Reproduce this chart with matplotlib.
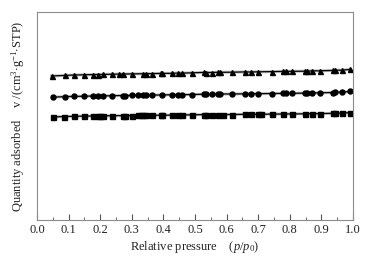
import numpy as np
import matplotlib
matplotlib.use("Agg")
import matplotlib.pyplot as plt
from matplotlib.ticker import MultipleLocator, FormatStrFormatter

plt.rcParams['font.family'] = ['Liberation Serif', 'DejaVu Serif']
plt.rcParams['mathtext.fontset'] = 'custom'
plt.rcParams['mathtext.rm'] = 'Liberation Serif'
plt.rcParams['mathtext.it'] = 'Liberation Serif:italic'

# relative pressure points
p_tri = [0.046, 0.089, 0.117, 0.149, 0.176, 0.192, 0.208, 0.238, 0.259, 0.271,
         0.302, 0.336, 0.344, 0.365, 0.391, 0.397, 0.426, 0.447, 0.458, 0.492,
         0.528, 0.534, 0.553, 0.574, 0.579, 0.616, 0.658, 0.677, 0.700, 0.743,
         0.780, 0.787, 0.808, 0.848, 0.853, 0.869, 0.896, 0.938, 0.943, 0.964, 0.991]
q_tri = [144.0, 144.6, 145.0, 145.2, 145.4, 145.5, 145.6, 145.8, 145.9, 146.0,
         146.1, 146.3, 146.3, 146.4, 146.6, 146.6, 146.7, 146.9, 146.9, 147.2,
         147.6, 147.5, 147.5, 147.8, 147.7, 147.8, 148.1, 148.0, 148.2, 148.4,
         148.6, 148.7, 148.7, 148.8, 148.9, 149.1, 149.2, 149.6, 149.8, 149.8, 150.6]

p_cir = [0.050, 0.089, 0.117, 0.149, 0.176, 0.192, 0.208, 0.238, 0.271, 0.277,
         0.302, 0.320, 0.336, 0.344, 0.365, 0.397, 0.426, 0.447, 0.458, 0.492,
         0.528, 0.534, 0.553, 0.574, 0.579, 0.616, 0.658, 0.677, 0.700, 0.743,
         0.780, 0.787, 0.808, 0.848, 0.853, 0.869, 0.896, 0.938, 0.943, 0.964, 0.991]
q_cir = [122.8, 123.4, 123.6, 123.8, 124.0, 124.1, 124.1, 124.3, 124.5, 124.5,
         124.6, 124.7, 124.8, 124.8, 124.9, 125.1, 125.2, 125.3, 125.3, 125.5,
         125.8, 125.8, 125.7, 125.9, 126.0, 126.0, 126.2, 126.3, 126.3, 126.5,
         126.6, 126.7, 126.7, 126.9, 127.0, 127.0, 127.2, 127.5, 127.7, 127.8, 128.6]

p_sq = [0.050, 0.087, 0.117, 0.149, 0.176, 0.192, 0.200, 0.208, 0.238, 0.271,
        0.277, 0.302, 0.320, 0.330, 0.336, 0.344, 0.365, 0.391, 0.397, 0.426,
        0.447, 0.458, 0.492, 0.528, 0.534, 0.553, 0.574, 0.590, 0.616, 0.658,
        0.677, 0.700, 0.710, 0.743, 0.780, 0.808, 0.848, 0.869, 0.896, 0.938,
        0.943, 0.964, 0.991]
q_sq = [103.0, 103.5, 103.7, 103.9, 104.0, 104.1, 104.2, 104.2, 104.3, 104.4,
        104.4, 104.5, 104.6, 104.6, 104.6, 104.7, 104.7, 104.8, 104.8, 104.9,
        105.0, 105.0, 105.2, 105.4, 105.4, 105.3, 105.5, 105.5, 105.5, 105.7,
        105.7, 105.8, 105.8, 105.9, 106.0, 106.1, 106.2, 106.3, 106.4, 106.7,
        106.8, 106.9, 107.4]

fig = plt.figure(figsize=(3.7, 2.61), dpi=100)
ax = fig.add_axes([0.1, 0.157, 0.854, 0.797])

for p, q, m in [(p_tri, q_tri, '^'), (p_cir, q_cir, 'o'), (p_sq, q_sq, 's')]:
    ax.plot(p, q, color='#9a9a9a', lw=2.2, alpha=0.6)
    ax.plot(p, q, color='black', lw=0.9, marker=m, ms=3.6, mec='black', mfc='black')

ax.set_xlim(0, 1.0)
ax.set_ylim(0, 208)
ax.xaxis.set_major_locator(MultipleLocator(0.1))
ax.xaxis.set_minor_locator(MultipleLocator(0.05))
ax.xaxis.set_major_formatter(FormatStrFormatter('%.1f'))
ax.tick_params(axis='x', which='major', direction='in', length=4, width=0.8,
               labelsize=9, pad=3, color='#555555', labelcolor='#222222')
ax.tick_params(axis='x', which='minor', direction='in', length=2, width=0.6, color='#555555')
ax.set_yticks([])
for s in ax.spines.values():
    s.set_color('#8c8c8c')
    s.set_linewidth(0.8)

ax.set_xlabel(r"Relative pressure    $(p/p_0)$", fontsize=9, color='#222222', labelpad=2)
ax.set_ylabel(r"Quantity adsorbed    v /(cm$^3$$\cdot$g$^{-1}$$\cdot$STP)",
              fontsize=9, color='#222222', labelpad=7)

fig.savefig("out.png", dpi=100)
